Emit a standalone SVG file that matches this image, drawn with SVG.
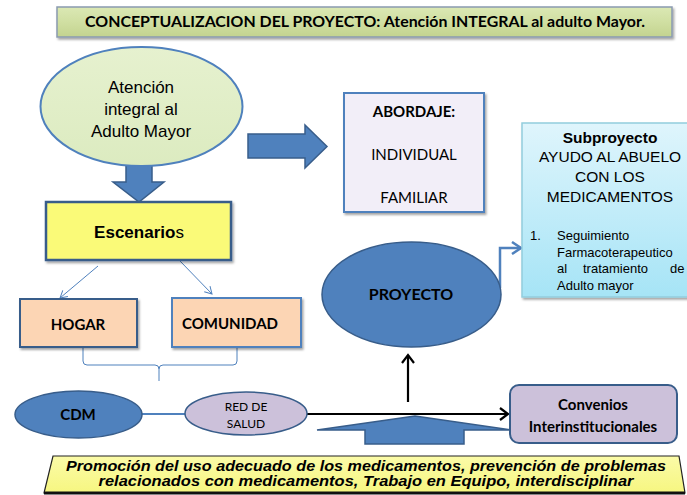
<svg xmlns="http://www.w3.org/2000/svg" width="687" height="495" viewBox="0 0 687 495">
<defs>
<style>
.cal{font-family:Lato,"Liberation Sans",sans-serif;}
.ari{font-family:"Liberation Sans",Arial,sans-serif;}
.b{font-weight:bold;}
.thin{fill:none;stroke:#4f81bd;stroke-width:1;}
.blk{fill:none;stroke:#000;stroke-width:2.2;}
.bluefill{fill:#4f81bd;stroke:#385d8a;stroke-width:1.5;}
</style>
<linearGradient id="gTitle" x1="0" y1="0" x2="0" y2="1"><stop offset="0" stop-color="#dbe8b4"/><stop offset="0.5" stop-color="#d0dfa2"/><stop offset="1" stop-color="#c3d38f"/></linearGradient>
<linearGradient id="gSub" x1="0" y1="0" x2="0" y2="1"><stop offset="0" stop-color="#dff5fc"/><stop offset="1" stop-color="#a6e4f6"/></linearGradient>
<linearGradient id="gBan" x1="0" y1="0" x2="0" y2="1"><stop offset="0" stop-color="#fbfba8"/><stop offset="1" stop-color="#f6f680"/></linearGradient>
<linearGradient id="gEll" x1="0" y1="0" x2="0" y2="1"><stop offset="0" stop-color="#e6f1cf"/><stop offset="1" stop-color="#dcebc0"/></linearGradient>
<filter id="sh" x="-10%" y="-10%" width="130%" height="130%"><feDropShadow dx="1.5" dy="2" stdDeviation="1.2" flood-color="#000" flood-opacity="0.35"/></filter>
<marker id="aThin" markerWidth="10" markerHeight="10" refX="8" refY="5" orient="auto" markerUnits="userSpaceOnUse"><path d="M1,1 L8,5 L1,9" fill="none" stroke="#4f81bd" stroke-width="1"/></marker>
<marker id="aBlue" markerWidth="14" markerHeight="14" refX="11" refY="7" orient="auto" markerUnits="userSpaceOnUse"><path d="M2,1 L11,7 L2,13" fill="none" stroke="#4f81bd" stroke-width="2.5"/></marker>
<marker id="aBlk" markerWidth="14" markerHeight="14" refX="11" refY="7" orient="auto" markerUnits="userSpaceOnUse"><path d="M3,1 L11,7 L3,13" fill="none" stroke="#000" stroke-width="2.2"/></marker>
</defs>
<rect width="687" height="495" fill="#fff"/>

<g id="title">
<rect x="57" y="7" width="615" height="30" fill="url(#gTitle)" stroke="#8a9ab0" stroke-width="1.5" filter="url(#sh)"/>
<text x="365" y="27" text-anchor="middle" class="cal b" font-size="15" textLength="560" lengthAdjust="spacingAndGlyphs" fill="#000">CONCEPTUALIZACION DEL PROYECTO: Atención INTEGRAL al adulto Mayor.</text>
</g>

<g id="connectors">
<path class="thin" d="M98,266 L60,298" marker-end="url(#aThin)"/>
<path class="thin" d="M180,261 L212,294" marker-end="url(#aThin)"/>
<path class="thin" d="M83,348 L83,361 Q83,365 87,365 L155,365 Q159,365 159,369 L159,381 M159,369 Q159,365 163,365 L233,365 Q237,365 237,361 L237,348"/>
<path d="M142,414 L185,414" fill="none" stroke="#4f81bd" stroke-width="2"/>
<path class="blk" d="M307,414 L508,414" marker-end="url(#aBlk)"/>
<path class="blk" d="M408,402 L408,355" marker-end="url(#aBlk)" stroke-width="2.6"/>
<path d="M500,288 L500,248 L521,248" fill="none" stroke="#4f81bd" stroke-width="2.5" marker-end="url(#aBlue)"/>
</g>

<g id="bigArrowUp">
<path class="bluefill" d="M365,444 L365,430 L317,430 L415,416 L512,430 L464,430 L464,444 Z"/>
</g>

<g id="arrowRight">
<path class="bluefill" d="M248,134 L305,134 L305,125 L327,146.5 L305,168 L305,158 L248,158 Z"/>
</g>

<g id="arrowDown">
<path class="bluefill" d="M126,162 L152,162 L152,182 L164,182 L139,202 L113,182 L126,182 Z"/>
</g>

<g id="atencion">
<ellipse cx="141.5" cy="106.5" rx="101" ry="59.5" fill="url(#gEll)" stroke="#4f81bd" stroke-width="2"/>
<text x="141" y="93" text-anchor="middle" class="ari" font-size="17" fill="#000">Atención</text>
<text x="141" y="115" text-anchor="middle" class="ari" font-size="17" fill="#000">integral al</text>
<text x="141" y="137" text-anchor="middle" class="ari" font-size="17" fill="#000">Adulto Mayor</text>
</g>

<g id="escenarios">
<rect x="46" y="202" width="185" height="58" fill="#fafa78" stroke="#385d8a" stroke-width="2.5" filter="url(#sh)"/>
<text x="139" y="238" text-anchor="middle" class="ari" font-size="17" fill="#000"><tspan font-weight="bold">Escenario</tspan>s</text>
</g>

<g id="hogar">
<rect x="20" y="299" width="117" height="48" fill="#fcd5b4" stroke="#385d8a" stroke-width="2" filter="url(#sh)"/>
<text x="78" y="330" text-anchor="middle" class="cal b" font-size="15" fill="#000">HOGAR</text>
</g>

<g id="comunidad">
<rect x="172" y="298" width="129" height="49" fill="#fcd5b4" stroke="#4f81bd" stroke-width="2" filter="url(#sh)"/>
<text x="230" y="329" text-anchor="middle" class="cal b" font-size="15" fill="#000">COMUNIDAD</text>
</g>

<g id="abordaje">
<rect x="344" y="93" width="140" height="119" fill="#f2eef8" stroke="#4f81bd" stroke-width="2" filter="url(#sh)"/>
<text x="414" y="117" text-anchor="middle" class="cal b" font-size="15" fill="#000">ABORDAJE:</text>
<text x="414" y="160" text-anchor="middle" class="cal" font-size="15" fill="#000">INDIVIDUAL</text>
<text x="414" y="203" text-anchor="middle" class="cal" font-size="15" fill="#000">FAMILIAR</text>
</g>

<g id="subproyecto">
<rect x="522" y="123" width="172" height="174" fill="url(#gSub)" stroke="#93cddd" stroke-width="1.5" filter="url(#sh)"/>
<text x="610" y="143" text-anchor="middle" class="ari b" font-size="15.5" fill="#000">Subproyecto</text>
<text x="610" y="162" text-anchor="middle" class="ari" font-size="15.5" fill="#000">AYUDO AL ABUELO</text>
<text x="610" y="182" text-anchor="middle" class="ari" font-size="15.5" fill="#000">CON LOS</text>
<text x="610" y="202" text-anchor="middle" class="ari" font-size="15.5" fill="#000">MEDICAMENTOS</text>
<g class="ari" font-size="13" fill="#000">
<text x="530" y="240">1.</text>
<text x="557" y="240">Seguimiento</text>
<text x="557" y="257">Farmacoterapeutico</text>
<text x="557" y="273">al</text>
<text x="583" y="273">tratamiento</text>
<text x="670" y="273">de</text>
<text x="557" y="290">Adulto mayor</text>
</g>
</g>

<g id="proyecto">
<ellipse cx="411.5" cy="294.5" rx="89.5" ry="52.5" fill="#4f81bd" stroke="#385d8a" stroke-width="1.5"/>
<text x="411" y="300" text-anchor="middle" class="cal b" font-size="16" fill="#000">PROYECTO</text>
</g>

<g id="cdm">
<ellipse cx="78.5" cy="414.5" rx="63.5" ry="23.5" fill="#4f81bd" stroke="#385d8a" stroke-width="1.5"/>
<text x="78" y="420" text-anchor="middle" class="cal b" font-size="15" fill="#000">CDM</text>
</g>

<g id="red">
<ellipse cx="246" cy="413.5" rx="61" ry="21.5" fill="#ccc1da" stroke="#385d8a" stroke-width="1.5"/>
<text x="246" y="411" text-anchor="middle" class="cal" font-size="12" fill="#000">RED DE</text>
<text x="246" y="428" text-anchor="middle" class="cal" font-size="12" fill="#000">SALUD</text>
</g>

<g id="convenios">
<rect x="510" y="385" width="167" height="58" rx="9" fill="#ccc1da" stroke="#385d8a" stroke-width="2"/>
<text x="593" y="410" text-anchor="middle" class="cal b" font-size="15" fill="#000">Convenios</text>
<text x="593" y="432" text-anchor="middle" class="cal b" font-size="15" fill="#000">Interinstitucionales</text>
</g>

<g id="banner">
<path d="M53,456 L679,456 L685,493 L44,493 Z" fill="url(#gBan)" stroke="#222" stroke-width="1.2"/>
<path d="M44,493 L685,493" stroke="#111" stroke-width="3"/>
<text x="366" y="471" text-anchor="middle" class="ari b" font-style="italic" font-size="14.5" textLength="600" lengthAdjust="spacingAndGlyphs" fill="#000">Promoción del uso adecuado de los medicamentos,  prevención de problemas</text>
<text x="366" y="486" text-anchor="middle" class="ari b" font-style="italic" font-size="14.5" textLength="535" lengthAdjust="spacingAndGlyphs" fill="#000">relacionados con medicamentos, Trabajo en  Equipo, interdisciplinar</text>
</g>
</svg>
